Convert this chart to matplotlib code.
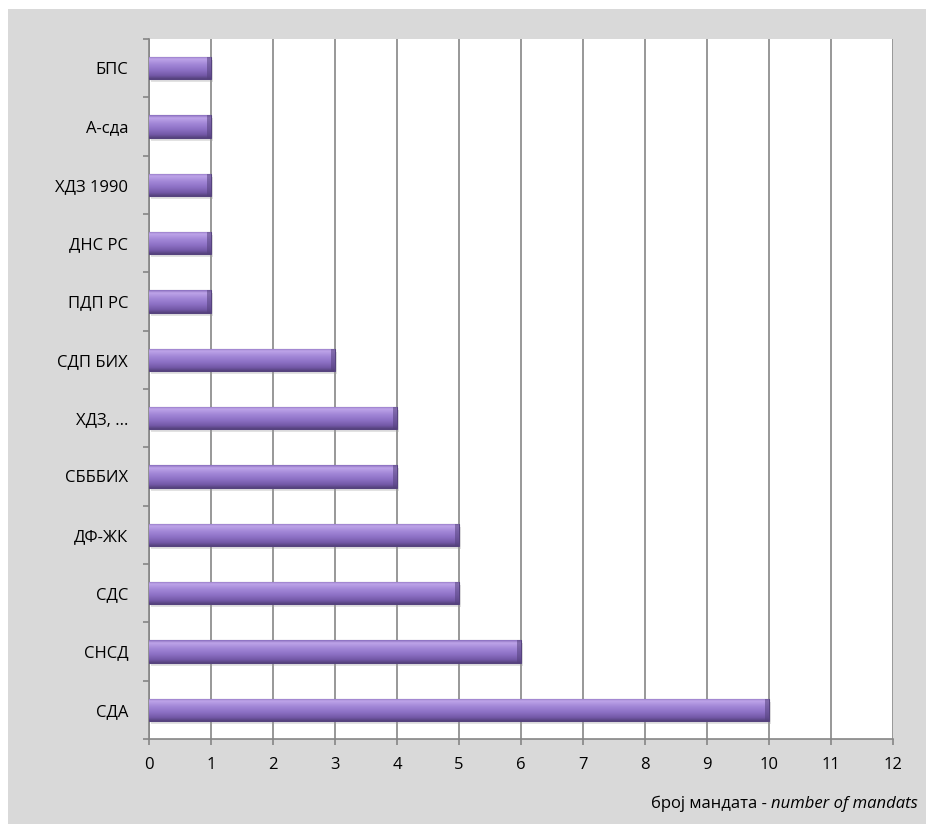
import numpy as np
import matplotlib.pyplot as plt
from matplotlib.patches import Rectangle
from matplotlib.colors import LinearSegmentedColormap

plt.rcParams['font.family'] = ['Open Sans', 'DejaVu Sans']

# parties from bottom to top, number of mandates
parties = ['СДА', 'СНСД', 'СДС', 'ДФ-ЖК', 'СБББИХ', 'ХДЗ, ...', 'СДП БИХ',
           'ПДП РС', 'ДНС РС', 'ХДЗ 1990', 'А-сда', 'БПС']
mandates = [10, 6, 5, 5, 4, 4, 3, 1, 1, 1, 1, 1]
xticks = list(range(0, 13))

W, H = 926, 824
fig = plt.figure(figsize=(W / 100, H / 100), dpi=100)
fig.patch.set_facecolor('white')
# grey chart area
fig.patches.append(Rectangle((8 / W, 0), 1 - 8 / W, (H - 9) / H, transform=fig.transFigure,
                             facecolor='#d9d9d9', edgecolor='none', zorder=-10))

ax = fig.add_axes([149 / W, (H - 739) / H, (893 - 149) / W, (739 - 39) / H])
ax.set_facecolor('white')

y = np.arange(len(parties))
bh = 0.38

# purple bar gradient (top light -> bottom dark)
bar_cmap = LinearSegmentedColormap.from_list('bar', [
    (0.0, '#8a6fbf'), (0.12, '#bea4e8'), (0.35, '#a388d8'),
    (0.6, '#8e72c6'), (0.85, '#7459a8'), (1.0, '#54417c')])
grad = np.linspace(0, 1, 64).reshape(-1, 1)

# soft shadow under bars
ax.barh(y - 0.05, mandates, height=bh, left=0.04, color='#a0a0a0', alpha=0.3, zorder=2,
        linewidth=0)
bars = ax.barh(y, mandates, height=bh, color='#9a80cf', edgecolor='#56437e',
               linewidth=0.8, zorder=3)
for b in bars:
    x0, y0 = b.get_x(), b.get_y()
    w, h = b.get_width(), b.get_height()
    im = ax.imshow(grad, cmap=bar_cmap, aspect='auto', origin='upper',
                   extent=[x0, x0 + w, y0, y0 + h], zorder=3.5)
    im.set_clip_path(b)
    # darker cap at the bar end
    ax.add_patch(Rectangle((x0 + w - 0.07, y0), 0.07, h, facecolor='#54417c',
                           alpha=0.55, edgecolor='none', zorder=3.6))

ax.set_xlim(0, 12)
ax.set_ylim(-0.5, len(parties) - 0.5)
ax.set_aspect('auto')

ax.set_xticks(xticks)
ax.set_xticklabels([str(t) for t in xticks], fontsize=12, color='black')
ax.set_yticks(y)
ax.set_yticklabels(parties, fontsize=12, color='black')
ax.set_yticks(np.arange(-0.5, len(parties), 1), minor=True)

ax.tick_params(axis='y', which='major', length=0, pad=15)
ax.tick_params(axis='y', which='minor', length=4.5, width=1.2, color='#868686', direction='out')
ax.tick_params(axis='x', which='major', length=4, width=1.2, color='#868686', pad=9)

ax.grid(axis='x', color='#868686', linewidth=1.2, zorder=1)
ax.set_axisbelow(True)

for side in ['top', 'right']:
    ax.spines[side].set_visible(False)
for side in ['left', 'bottom']:
    ax.spines[side].set_color('#868686')
    ax.spines[side].set_linewidth(1.2)

# axis title: normal cyrillic part + italic english part
t2 = fig.text(918 / W, (H - 804) / H, 'number of mandats', fontsize=12, style='italic',
              ha='right', va='center', color='black')
fig.canvas.draw()
bb = t2.get_window_extent()
fig.text(bb.x0 / W, (H - 804) / H, 'број мандата - ', fontsize=12,
         ha='right', va='center', color='black')

fig.savefig('out.png', dpi=100)
